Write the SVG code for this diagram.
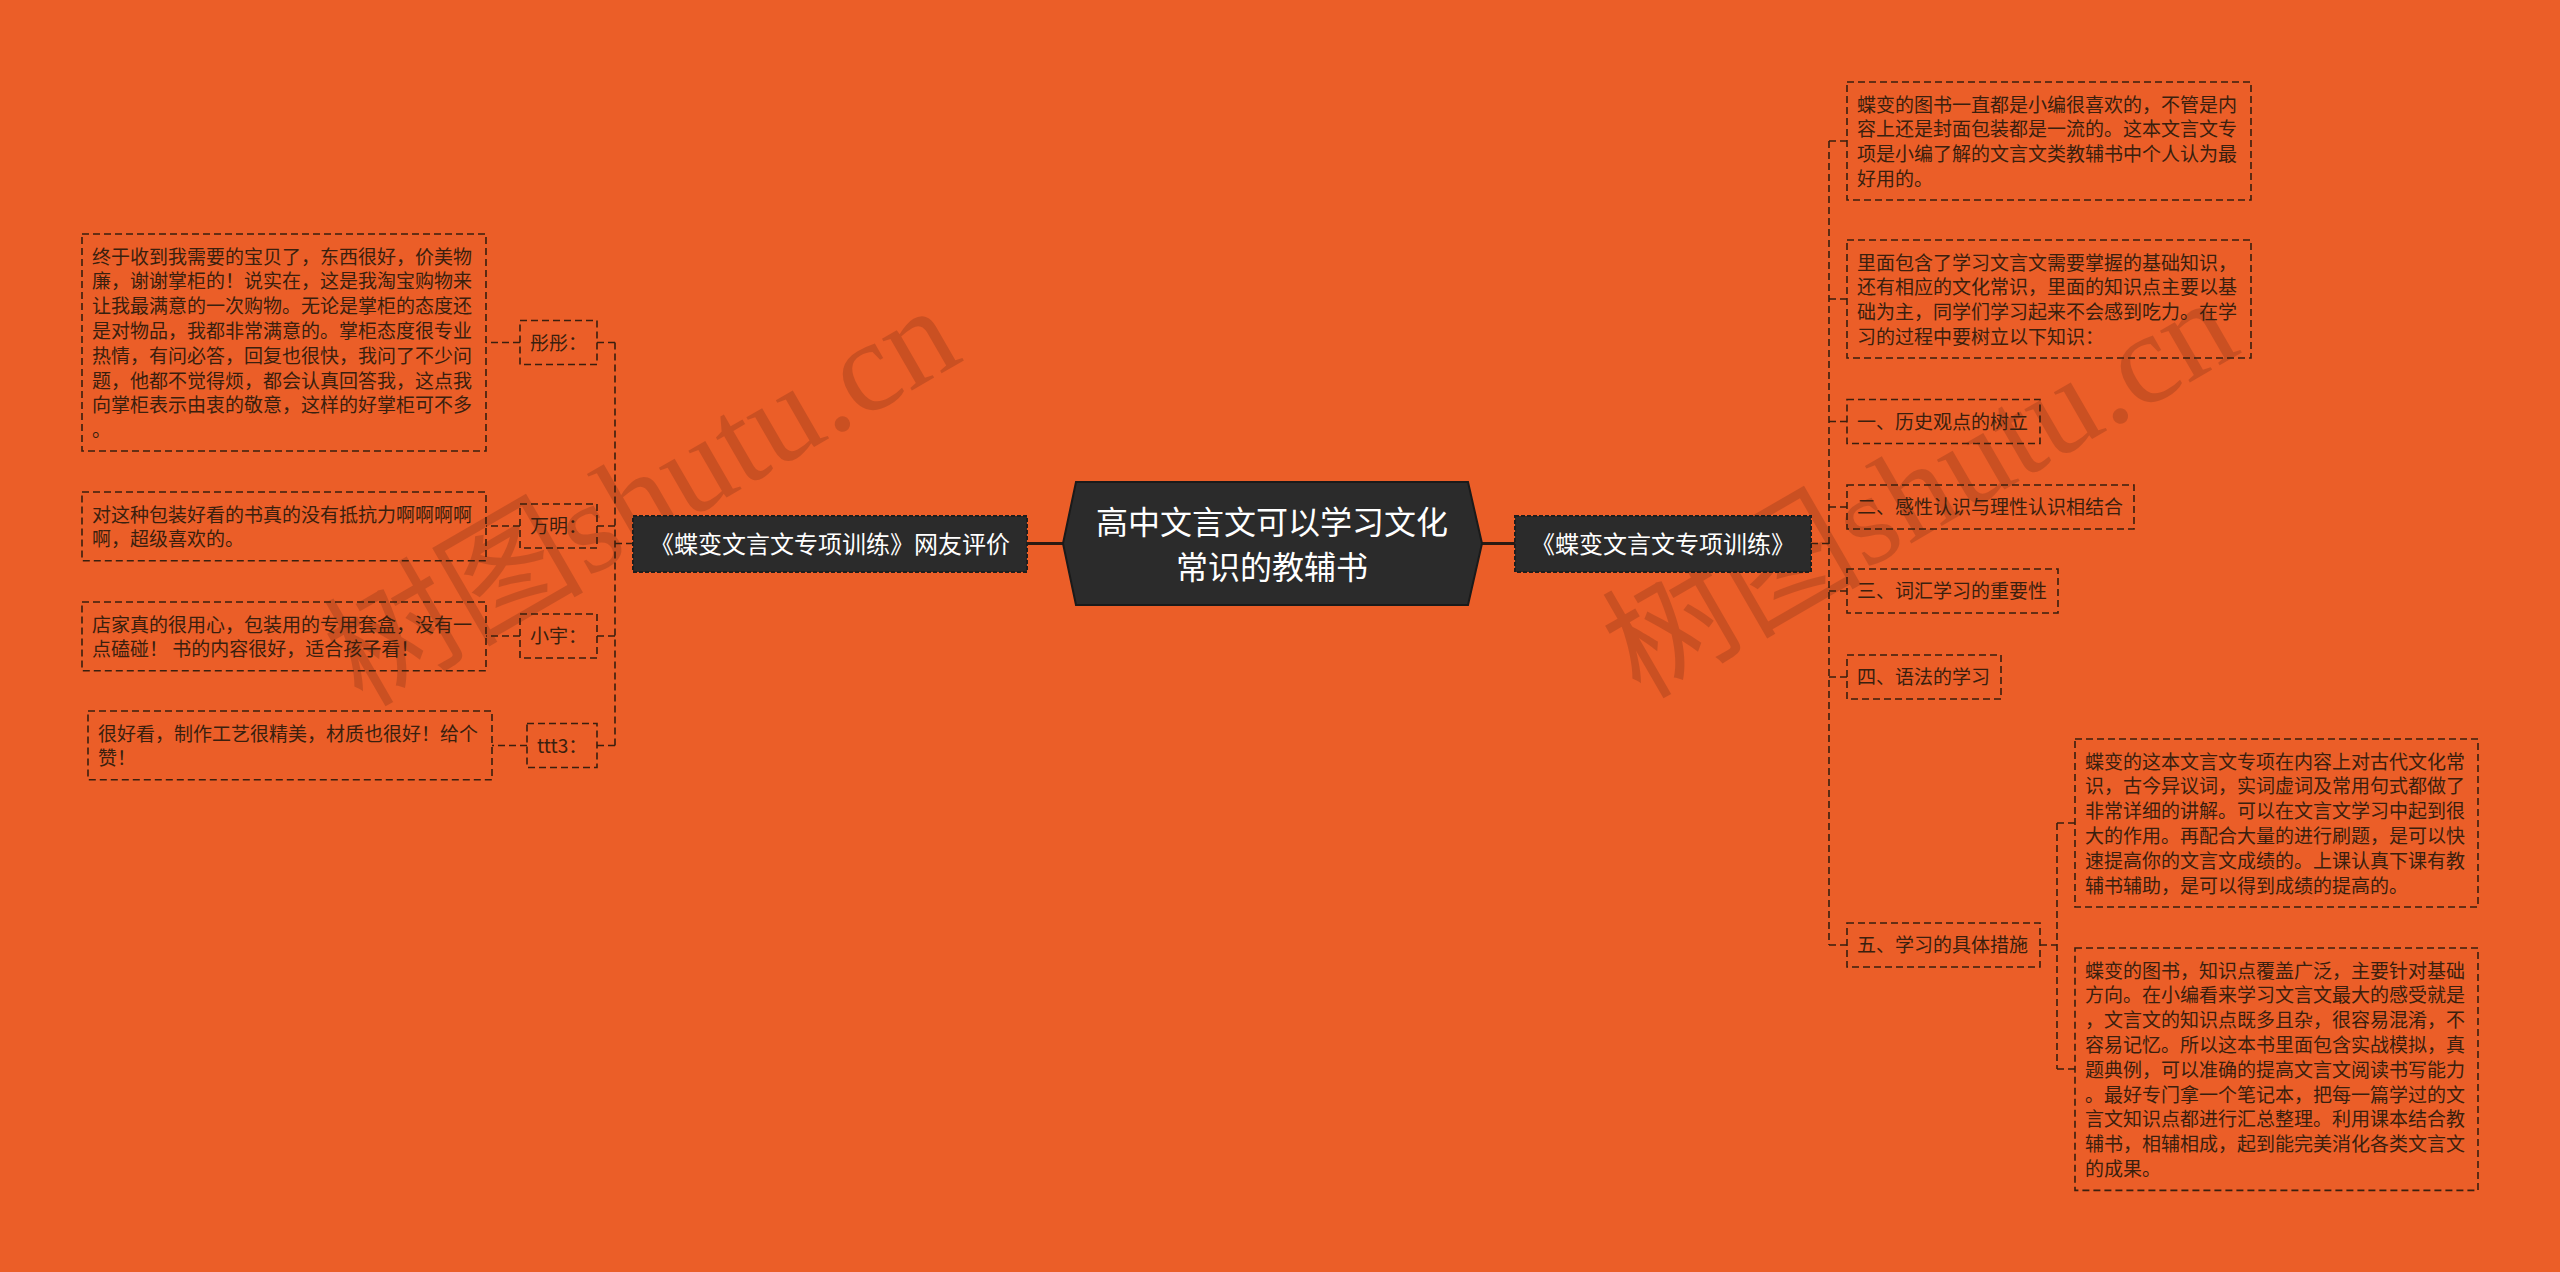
<svg xmlns="http://www.w3.org/2000/svg" width="2560" height="1272" viewBox="0 0 2560 1272">
<style>
.bg{fill:#EB5E28}
.box{fill:none;stroke:#3a1f0e;stroke-width:1.6;stroke-dasharray:7 4}
.t{font-family:"Noto Sans CJK SC","Noto Sans",sans-serif;font-size:19px;fill:#3a1f0e}
.dk{fill:#2b2b2b;stroke:#1e1e1e;stroke-width:2;stroke-dasharray:4 2}
.wt{font-family:"Noto Sans CJK SC","Noto Sans",sans-serif;font-size:24px;fill:#ffffff}
.ct{font-family:"Noto Sans CJK SC","Noto Sans",sans-serif;font-size:32px;fill:#ffffff}
.dl{fill:none;stroke:#3a1f0e;stroke-width:1.6;stroke-dasharray:7 4}
.sl{fill:none;stroke:#2a1a12;stroke-width:3}
.wm{font-family:"Liberation Serif","Noto Sans CJK SC",serif;font-size:130px;fill:#5a2010;opacity:0.22}
</style>
<rect class="bg" x="0" y="0" width="2560" height="1272"/>

<g id="watermarks">
<text class="wm" transform="translate(362,708) rotate(-30)">树图shutu.cn</text>
<text class="wm" transform="translate(1640,700) rotate(-30)">树图shutu.cn</text>
</g>

<g id="connectors">
<line class="sl" x1="1027" y1="543.5" x2="1063" y2="543.5"/>
<line class="sl" x1="1482" y1="543.5" x2="1515" y2="543.5"/>
<path class="dl" d="M633 543.5H615M615 342.5V745.5M615 342.5H597M615 526H597M615 636H597M615 745.5H597M520 342.5H486M520 526H486M520 636H486M527 745.5H492"/>
<path class="dl" d="M1811 543.5H1829M1829 141V945M1829 141H1847M1829 299H1847M1829 421.5H1847M1829 507H1847M1829 591H1847M1829 677H1847M1829 945H1847"/>
<path class="dl" d="M2040 945H2057M2057 823V1069M2057 823H2075M2057 1069H2075"/>
</g>

<g id="center">
<polygon points="1063,543.5 1076,482 1468,482 1482,543.5 1468,605 1076,605" fill="#2b2b2b" stroke="#1a1a1a" stroke-width="2"/>
<text class="ct" x="1272" y="534" text-anchor="middle">高中文言文可以学习文化</text>
<text class="ct" x="1272" y="579" text-anchor="middle">常识的教辅书</text>
</g>

<g id="left-main">
<rect class="dk" x="633" y="516" width="394" height="56"/>
<text class="wt" x="830" y="552.5" text-anchor="middle">《蝶变文言文专项训练》网友评价</text>
</g>

<g id="right-main">
<rect class="dk" x="1515" y="516" width="296" height="56"/>
<text class="wt" x="1663" y="552.5" text-anchor="middle">《蝶变文言文专项训练》</text>
</g>

<g id="name-tongtong">
<rect class="box" x="520" y="320.5" width="77" height="44"/>
<text class="t" x="530" y="349.5">彤彤：</text>
</g>
<g id="name-wanming">
<rect class="box" x="520" y="504" width="77" height="44"/>
<text class="t" x="530" y="533">万明：</text>
</g>
<g id="name-xiaoyu">
<rect class="box" x="520" y="614" width="77" height="44"/>
<text class="t" x="530" y="643">小宇：</text>
</g>
<g id="name-ttt3">
<rect class="box" x="527" y="723.5" width="70" height="44"/>
<text class="t" x="537" y="752.5">ttt3：</text>
</g>

<g id="review-a">
<rect class="box" x="82" y="234" width="404" height="217"/>
<text class="t" x="92" y="263.5">终于收到我需要的宝贝了，东西很好，价美物</text>
<text class="t" x="92" y="288.3">廉，谢谢掌柜的！说实在，这是我淘宝购物来</text>
<text class="t" x="92" y="313.1">让我最满意的一次购物。无论是掌柜的态度还</text>
<text class="t" x="92" y="337.9">是对物品，我都非常满意的。掌柜态度很专业</text>
<text class="t" x="92" y="362.7">热情，有问必答，回复也很快，我问了不少问</text>
<text class="t" x="92" y="387.5">题，他都不觉得烦，都会认真回答我，这点我</text>
<text class="t" x="92" y="412.3">向掌柜表示由衷的敬意，这样的好掌柜可不多</text>
<text class="t" x="92" y="437.1">。</text>
</g>
<g id="review-b">
<rect class="box" x="82" y="492" width="404" height="68.8"/>
<text class="t" x="92" y="521.5">对这种包装好看的书真的没有抵抗力啊啊啊啊</text>
<text class="t" x="92" y="546.3">啊，超级喜欢的。</text>
</g>
<g id="review-c">
<rect class="box" x="82" y="602" width="404" height="68.8"/>
<text class="t" x="92" y="631.5">店家真的很用心，包装用的专用套盒，没有一</text>
<text class="t" x="92" y="656.3">点磕碰！ 书的内容很好，适合孩子看！</text>
</g>
<g id="review-d">
<rect class="box" x="88" y="711" width="404" height="68.8"/>
<text class="t" x="98" y="740.5">很好看，制作工艺很精美，材质也很好！给个</text>
<text class="t" x="98" y="765.3">赞！</text>
</g>

<g id="r1">
<rect class="box" x="1847" y="82" width="404" height="118"/>
<text class="t" x="1857" y="111.5">蝶变的图书一直都是小编很喜欢的，不管是内</text>
<text class="t" x="1857" y="136.3">容上还是封面包装都是一流的。这本文言文专</text>
<text class="t" x="1857" y="161.1">项是小编了解的文言文类教辅书中个人认为最</text>
<text class="t" x="1857" y="185.9">好用的。</text>
</g>
<g id="r2">
<rect class="box" x="1847" y="240" width="404" height="118"/>
<text class="t" x="1857" y="269.5">里面包含了学习文言文需要掌握的基础知识，</text>
<text class="t" x="1857" y="294.3">还有相应的文化常识，里面的知识点主要以基</text>
<text class="t" x="1857" y="319.1">础为主，同学们学习起来不会感到吃力。在学</text>
<text class="t" x="1857" y="343.9">习的过程中要树立以下知识：</text>
</g>
<g id="r3">
<rect class="box" x="1847" y="399.5" width="193" height="44"/>
<text class="t" x="1857" y="428.5">一、历史观点的树立</text>
</g>
<g id="r4">
<rect class="box" x="1847" y="485" width="287" height="44"/>
<text class="t" x="1857" y="514">二、感性认识与理性认识相结合</text>
</g>
<g id="r5">
<rect class="box" x="1847" y="569" width="211" height="44"/>
<text class="t" x="1857" y="598">三、词汇学习的重要性</text>
</g>
<g id="r6">
<rect class="box" x="1847" y="655" width="154" height="44"/>
<text class="t" x="1857" y="684">四、语法的学习</text>
</g>
<g id="r7">
<rect class="box" x="1847" y="923" width="193" height="44"/>
<text class="t" x="1857" y="952">五、学习的具体措施</text>
</g>
<g id="r8">
<rect class="box" x="2075" y="739" width="403" height="168"/>
<text class="t" x="2085" y="768.5">蝶变的这本文言文专项在内容上对古代文化常</text>
<text class="t" x="2085" y="793.3">识，古今异议词，实词虚词及常用句式都做了</text>
<text class="t" x="2085" y="818.1">非常详细的讲解。可以在文言文学习中起到很</text>
<text class="t" x="2085" y="842.9">大的作用。再配合大量的进行刷题，是可以快</text>
<text class="t" x="2085" y="867.7">速提高你的文言文成绩的。上课认真下课有教</text>
<text class="t" x="2085" y="892.5">辅书辅助，是可以得到成绩的提高的。</text>
</g>
<g id="r9">
<rect class="box" x="2075" y="948" width="403" height="242.4"/>
<text class="t" x="2085" y="977.5">蝶变的图书，知识点覆盖广泛，主要针对基础</text>
<text class="t" x="2085" y="1002.3">方向。在小编看来学习文言文最大的感受就是</text>
<text class="t" x="2085" y="1027.1">，文言文的知识点既多且杂，很容易混淆，不</text>
<text class="t" x="2085" y="1051.9">容易记忆。所以这本书里面包含实战模拟，真</text>
<text class="t" x="2085" y="1076.7">题典例，可以准确的提高文言文阅读书写能力</text>
<text class="t" x="2085" y="1101.5">。最好专门拿一个笔记本，把每一篇学过的文</text>
<text class="t" x="2085" y="1126.3">言文知识点都进行汇总整理。利用课本结合教</text>
<text class="t" x="2085" y="1151.1">辅书，相辅相成，起到能完美消化各类文言文</text>
<text class="t" x="2085" y="1175.9">的成果。</text>
</g>
</svg>
